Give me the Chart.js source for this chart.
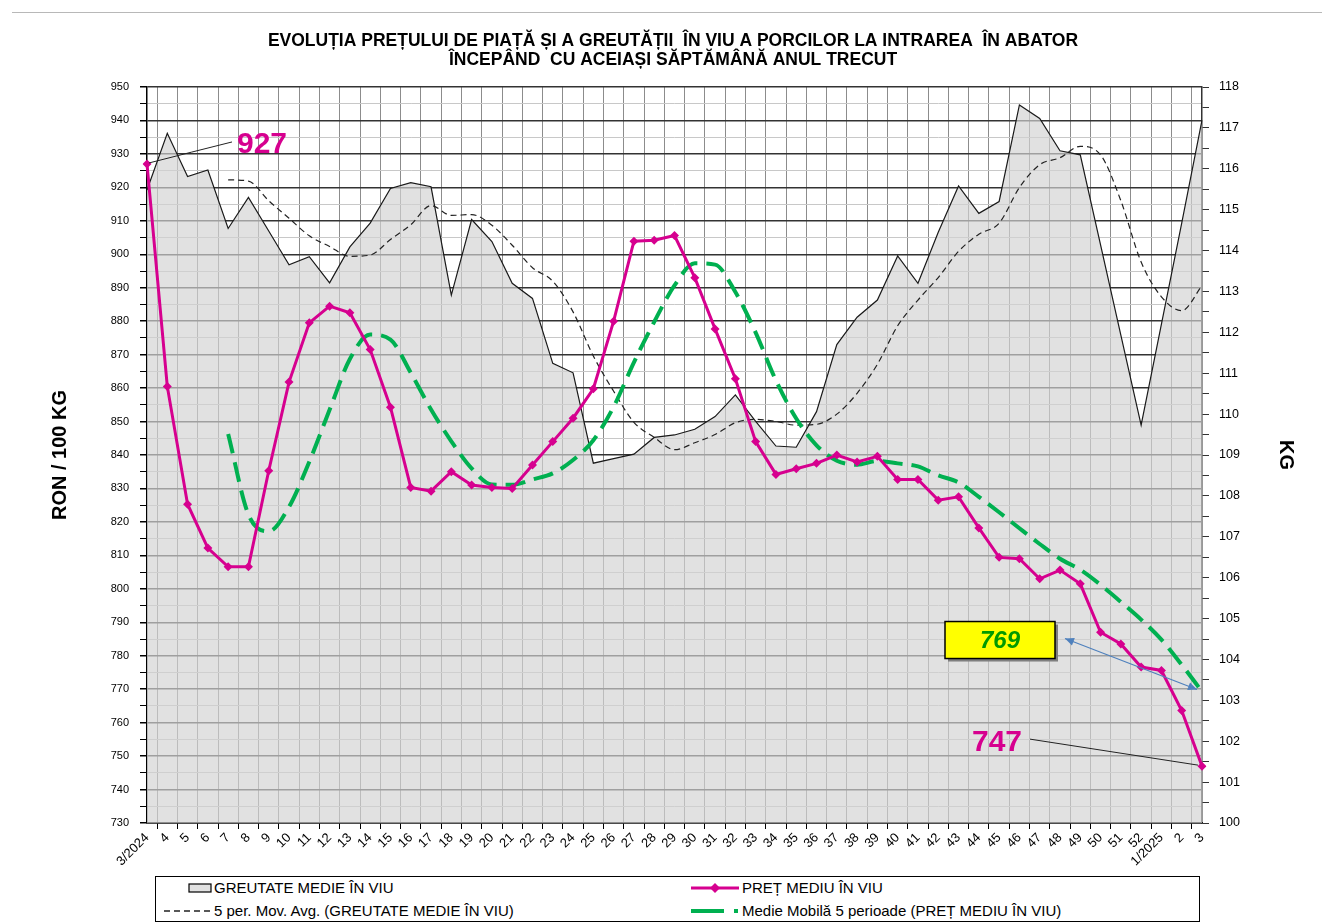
<!DOCTYPE html>
<html>
<head>
<meta charset="utf-8">
<script src="https://cdn.jsdelivr.net/npm/chart.js@4.4.1/dist/chart.umd.min.js"></script>
<style>
html,body{margin:0;padding:0;background:#fff;}
#wrap{position:relative;width:1322px;height:923px;overflow:hidden;font-family:"Liberation Sans",Arial,sans-serif;}
#c{position:absolute;left:0;top:0;}
#frame{position:absolute;left:12px;top:12px;width:1310px;height:0;border-top:1px solid #b8b8b8;}
#legend{position:absolute;left:155px;top:876px;width:1045px;height:46px;border:1px solid #000;box-sizing:border-box;background:#fff;}
.item{position:absolute;font-size:15px;line-height:18px;color:#000;white-space:nowrap;}
.sw{position:absolute;}
</style>
</head>
<body>
<div id="wrap">
<div id="frame"></div>
<canvas id="c" width="1322" height="923"></canvas>
<div id="legend">
  <svg class="sw" style="left:32px;top:5px" width="24" height="12"><rect x="1" y="2" width="22" height="8" fill="#e1e1e1" stroke="#000" stroke-width="1.2"/></svg>
  <div class="item" style="left:58px;top:2px">GREUTATE MEDIE ÎN VIU</div>
  <svg class="sw" style="left:7px;top:28px" width="48" height="12"><line x1="1" y1="6" x2="47" y2="6" stroke="#222" stroke-width="1.3" stroke-dasharray="6,4"/></svg>
  <div class="item" style="left:58px;top:25px">5 per. Mov. Avg. (GREUTATE MEDIE ÎN VIU)</div>
  <svg class="sw" style="left:534px;top:3px" width="50" height="16"><line x1="1" y1="8" x2="49" y2="8" stroke="#D6008F" stroke-width="3"/><polygon points="25,3 30,8 25,13 20,8" fill="#D6008F"/></svg>
  <div class="item" style="left:586px;top:2px">PREȚ MEDIU ÎN VIU</div>
  <svg class="sw" style="left:534px;top:26px" width="50" height="16"><line x1="1" y1="8" x2="34" y2="8" stroke="#00B050" stroke-width="4"/><line x1="44" y1="8" x2="48" y2="8" stroke="#00B050" stroke-width="4"/></svg>
  <div class="item" style="left:586px;top:25px">Medie Mobilă 5 perioade (PREȚ MEDIU ÎN VIU)</div>
</div>
</div>
<script>
// ---- DATA ----
const weekLabels = ["3/2024","4","5","6","7","8","9","10","11","12","13","14","15","16","17","18","19","20","21","22","23","24","25","26","27","28","29","30","31","32","33","34","35","36","37","38","39","40","41","42","43","44","45","46","47","48","49","50","51","52","1/2025","2","3"];

// PREȚ MEDIU ÎN VIU (RON / 100 KG)
const pretMediu = [927,860.5,825.3,812.2,806.6,806.6,835.3,861.8,879.5,884.5,882.5,871.5,854.3,830.3,829.2,835,831,830.3,830,837,844,851,859.8,880,903.9,904.2,905.6,893,877.7,862.8,844,834.2,835.9,837.5,840,837.9,839.6,832.7,832.7,826.5,827.5,818.2,809.4,809,803,805.6,801.5,787,783.5,776.6,775.6,763.6,747];

// Medie Mobilă 5 perioade (PREȚ MEDIU ÎN VIU)
const medieMobilaPret = [null,null,null,null,846.3,822.2,817.2,824.5,838.0,853.5,868.7,876.0,874.5,864.6,853.6,844.1,836.0,831.2,831.1,832.7,834.5,838.5,844.4,854.4,867.7,879.8,890.7,897.3,896.9,888.7,876.6,862.3,850.9,842.9,838.3,837.1,838.2,837.5,836.6,833.9,831.8,827.5,822.9,818.1,813.4,809.0,805.7,801.2,796.1,790.8,784.8,777.3,769.3];

// GREUTATE MEDIE ÎN VIU (KG)
const greutateMedie = [115.48,116.87,115.81,115.97,114.54,115.30,114.48,113.65,113.85,113.21,114.09,114.67,115.52,115.66,115.56,112.91,114.76,114.22,113.2,112.83,111.24,111.01,108.8,108.91,109.02,109.43,109.49,109.63,109.94,110.47,109.82,109.22,109.19,110.06,111.7,112.37,112.79,113.87,113.2,114.45,115.58,114.91,115.2,117.56,117.23,116.44,116.34,114.14,111.93,109.73,112.2,114.67,117.19];

// 5 per. Mov. Avg. (GREUTATE MEDIE ÎN VIU)
const medieMobilaGreutate = [null,null,null,null,115.73,115.70,115.22,114.79,114.36,114.10,113.86,113.89,114.27,114.63,115.10,114.86,114.88,114.62,114.13,113.58,113.25,112.50,111.42,110.56,109.80,109.43,109.13,109.30,109.50,109.79,109.87,109.82,109.73,109.75,110.00,110.51,111.22,112.16,112.79,113.34,113.98,114.40,114.67,115.54,116.10,116.27,116.55,116.34,115.22,113.72,112.87,112.53,113.14];

const titleLines = ["EVOLUȚIA PREȚULUI DE PIAȚĂ ȘI A GREUTĂȚII  ÎN VIU A PORCILOR LA INTRAREA  ÎN ABATOR","ÎNCEPÂND  CU ACEIAȘI SĂPTĂMÂNĂ ANUL TRECUT"];
const labelFirst = "927", labelLast = "747", labelMA = "769";

// ---- STYLE ----
const FONT = '"Liberation Sans", Arial, sans-serif';
const MAGENTA = '#D6008F';
const GREEN = '#00B050';
Chart.defaults.font.family = FONT;
Chart.defaults.color = '#000';

function arrowHead(ctx, x1, y1, x2, y2){
  const a = Math.atan2(y2-y1, x2-x1), L = 9, W = 4;
  ctx.beginPath();
  ctx.moveTo(x2, y2);
  ctx.lineTo(x2 - L*Math.cos(a) + W*Math.sin(a), y2 - L*Math.sin(a) - W*Math.cos(a));
  ctx.lineTo(x2 - L*Math.cos(a) - W*Math.sin(a), y2 - L*Math.sin(a) + W*Math.cos(a));
  ctx.closePath(); ctx.fill();
}

const annotations = {
  id: 'annotations',
  afterDatasetsDraw(chart){
    const {ctx} = chart; const x = chart.scales.x, y = chart.scales.y;
    const n = pretMediu.length - 1;
    const x0 = x.getPixelForValue(0), y0 = y.getPixelForValue(pretMediu[0]);
    const xn = x.getPixelForValue(n), yn = y.getPixelForValue(pretMediu[n]);
    const ym = y.getPixelForValue(medieMobilaPret[n]);
    ctx.save();
    // 927
    ctx.strokeStyle = '#222'; ctx.lineWidth = 1;
    ctx.beginPath(); ctx.moveTo(x0 + 2, y0 - 1); ctx.quadraticCurveTo(x0 + 45, y0 - 12, x0 + 85, y0 - 22); ctx.stroke();
    ctx.font = 'bold 30px ' + FONT; ctx.fillStyle = MAGENTA; ctx.textBaseline = 'alphabetic'; ctx.textAlign = 'left';
    ctx.fillText(labelFirst, x0 + 90, y0 - 11);
    // 747
    ctx.beginPath(); ctx.moveTo(xn - 172, yn - 27); ctx.lineTo(xn - 4, yn - 1); ctx.stroke();
    ctx.textAlign = 'right';
    ctx.fillText(labelLast, xn - 180, yn - 15);
    // 769 box
    const bx = xn - 257, by = ym - 70, bw = 110, bh = 37;
    ctx.fillStyle = '#7f7f7f'; ctx.fillRect(bx + 3, by + 3, bw, bh);
    ctx.fillStyle = '#FFFF00'; ctx.fillRect(bx, by, bw, bh);
    ctx.strokeStyle = '#000'; ctx.lineWidth = 1.5; ctx.strokeRect(bx, by, bw, bh);
    ctx.fillStyle = '#009A00'; ctx.font = 'italic bold 24px ' + FONT; ctx.textAlign = 'center'; ctx.textBaseline = 'middle';
    ctx.fillText(labelMA, bx + bw/2, by + bh/2 + 1);
    // blue double arrow
    const ax1 = bx + bw + 10, ay1 = by + 17, ax2 = xn - 5, ay2 = ym - 2;
    ctx.strokeStyle = '#4F81BD'; ctx.fillStyle = '#4F81BD'; ctx.lineWidth = 1.2;
    ctx.beginPath(); ctx.moveTo(ax1, ay1); ctx.lineTo(ax2, ay2); ctx.stroke();
    arrowHead(ctx, ax2, ay2, ax1, ay1);
    arrowHead(ctx, ax1, ay1, ax2, ay2);
    ctx.restore();
  }
};

new Chart(document.getElementById('c'), {
  type: 'line',
  data: {
    labels: weekLabels,
    datasets: [
      { label: 'PREȚ MEDIU ÎN VIU', data: pretMediu, yAxisID: 'y', borderColor: MAGENTA, backgroundColor: MAGENTA,
        borderWidth: 3, pointStyle: 'rectRot', pointRadius: 4.5, pointBorderWidth: 0, tension: 0, order: 1 },
      { label: 'Medie Mobilă 5 perioade (PREȚ MEDIU ÎN VIU)', data: medieMobilaPret, yAxisID: 'y', borderColor: GREEN,
        borderWidth: 4, borderDash: [20, 9], pointRadius: 0, cubicInterpolationMode: 'monotone', order: 2 },
      { label: '5 per. Mov. Avg. (GREUTATE MEDIE ÎN VIU)', data: medieMobilaGreutate, yAxisID: 'y1', borderColor: '#222',
        borderWidth: 1.2, borderDash: [6, 4], pointRadius: 0, cubicInterpolationMode: 'monotone', order: 3 },
      { label: 'GREUTATE MEDIE ÎN VIU', data: greutateMedie, yAxisID: 'y1', borderColor: '#1a1a1a', borderWidth: 1.2,
        backgroundColor: 'rgba(211,211,211,0.68)', fill: 'start', pointRadius: 0, tension: 0, order: 4 }
    ]
  },
  options: {
    responsive: false, animation: false, events: [],
    layout: { padding: { left: 42, right: 18, top: 0, bottom: 0 } },
    plugins: {
      legend: { display: false }, tooltip: { enabled: false },
      title: { display: true, text: titleLines, color: '#000',
        font: { size: 17.5, weight: 'bold', lineHeight: 1.086 }, padding: { top: 32, bottom: 17 } }
    },
    scales: {
      x: {
        type: 'category', offset: false,
        grid: { offset: true, color: '#8c8c8c', lineWidth: 1, tickLength: 6, tickColor: '#000' },
        border: { color: '#000', width: 1.5 },
        ticks: { autoSkip: false, maxRotation: 45, minRotation: 45, font: { size: 13 }, color: '#000', padding: 1 },
        afterFit: s => { s.height = 100; }
      },
      y: {
        position: 'left', min: 730, max: 950,
        ticks: { stepSize: 5, autoSkip: false, callback: v => (v % 10 === 0 ? v : ''), font: { size: 11 }, color: '#000', padding: 11 },
        grid: { color: c => (c.tick && c.tick.value % 10 === 0 ? '#333' : '#c8c8c8'),
                lineWidth: c => (c.tick && c.tick.value % 10 === 0 ? 1.5 : 1), tickLength: 7, tickColor: '#000' },
        border: { color: '#000', width: 1.5 },
        title: { display: true, text: 'RON / 100 KG', color: '#000', font: { size: 20, weight: 'bold' }, padding: { top: 6, bottom: 0 } },
        afterFit: s => { s.width = 105; }
      },
      y1: {
        position: 'right', min: 100, max: 118,
        ticks: { stepSize: 0.5, autoSkip: false, callback: v => (Number.isInteger(v) ? v : ''), font: { size: 12.5 }, color: '#000', padding: 10 },
        grid: { drawOnChartArea: false, tickLength: 7, tickColor: '#333' },
        border: { color: '#333', width: 1.5 },
        title: { display: true, text: 'KG', color: '#000', font: { size: 20, weight: 'bold' }, padding: { top: 6, bottom: 0 } },
        afterFit: s => { s.width = 102; }
      }
    }
  },
  plugins: [annotations]
});
</script>
</body>
</html>
